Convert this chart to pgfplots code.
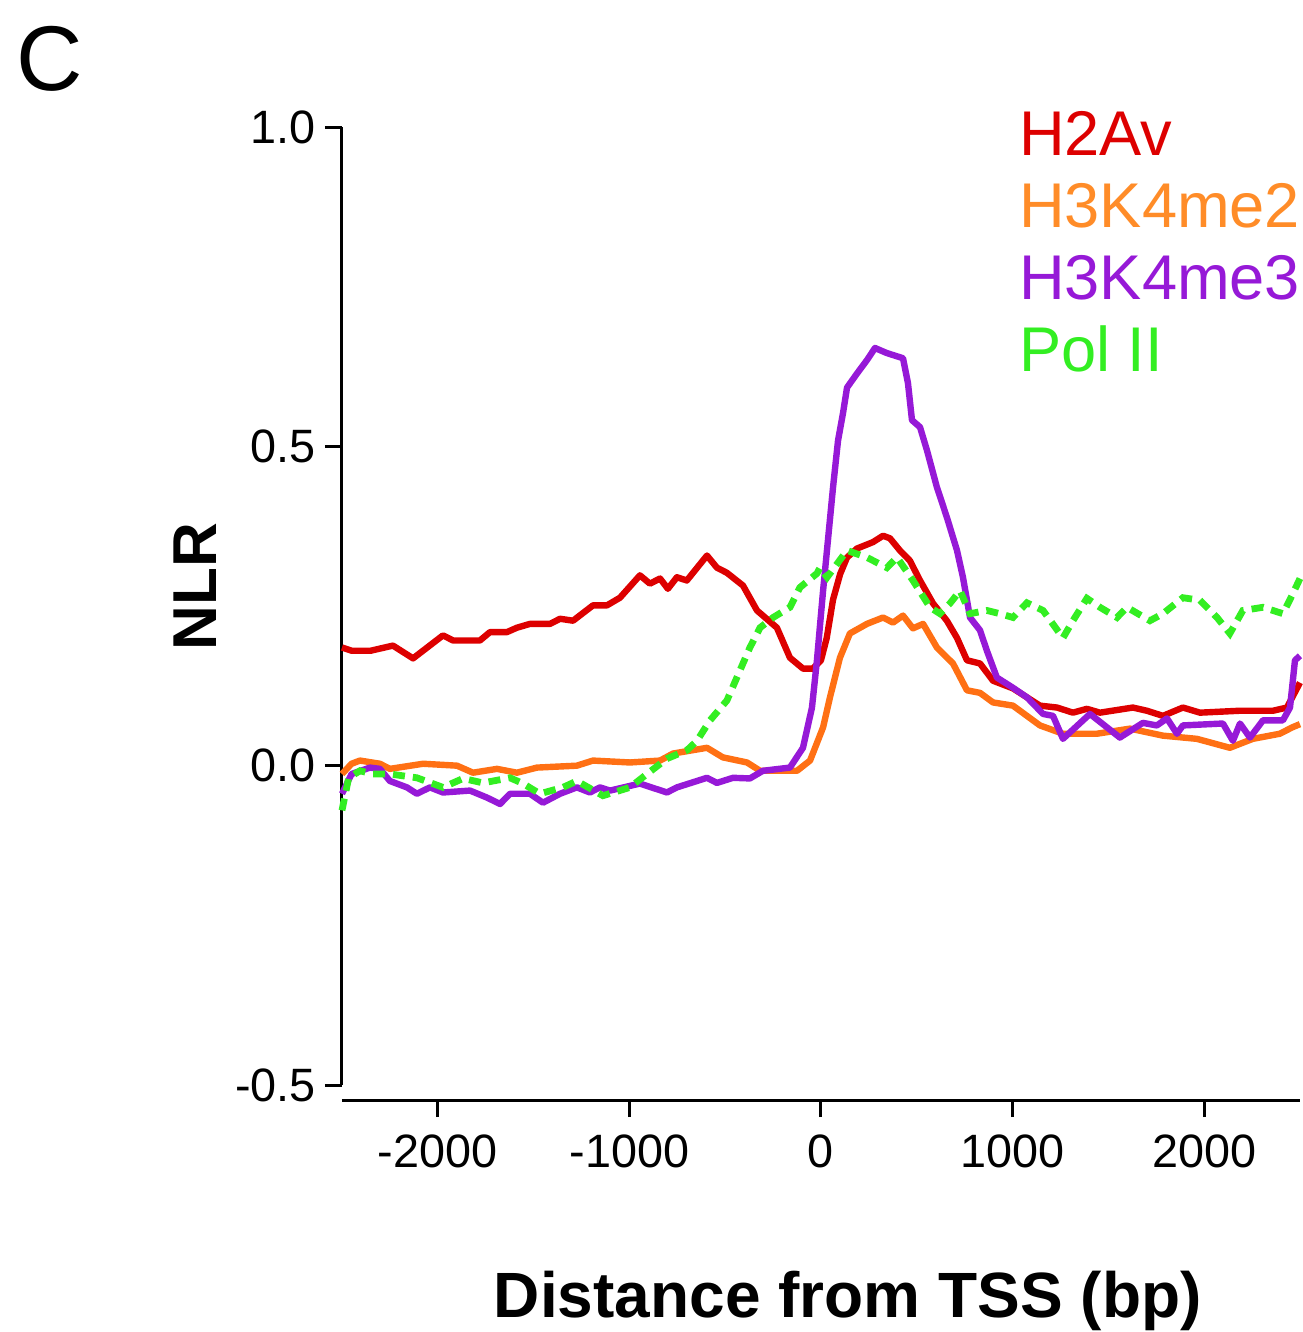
\documentclass[border=0pt]{standalone}
\usepackage{pgfplots}
\pgfplotsset{compat=1.18}
\usepackage{fontspec}
\setmainfont{Liberation Sans}
\definecolor{cRed}{RGB}{221,0,0}
\definecolor{cOrange}{RGB}{255,112,20}
\definecolor{cOrangeT}{RGB}{255,140,40}
\definecolor{cPurple}{RGB}{150,25,215}
\definecolor{cGreen}{RGB}{51,238,34}
\begin{document}
\begin{tikzpicture}
\useasboundingbox (-85.5pt,-61.75pt) rectangle (240.25pt,271.25pt);
\begin{axis}[
  at={(0pt,0pt)}, anchor=south west,
  scale only axis, width=239.5pt, height=239.5pt,
  xmin=-2500, xmax=2500, ymin=-0.5, ymax=1.0,
  axis x line*=bottom, axis y line*=left,
  axis x line shift=3.75pt,
  axis line style={-, line width=0.75pt, black},
  tick style={line width=0.75pt, black},
  tick align=outside, major tick length=4.3pt,
  xtick={-2000,-1000,0,1000,2000},
  ytick={-0.5,0,0.5,1.0},
  scaled ticks=false,
  /pgf/number format/assume math mode=true,
  /pgf/number format/1000 sep={},
  yticklabel={\pgfmathprintnumber[fixed,fixed zerofill,precision=1]{\tick}},
  tick label style={font=\fontsize{11.7}{13}\selectfont},
  xticklabel style={inner sep=0pt, yshift=-4.2pt},
  yticklabel style={inner sep=0pt, xshift=-2pt},
  xlabel={\bfseries Distance from TSS (bp)},
  ylabel={\bfseries NLR},
  every axis x label/.style={at={(axis description cs:0.528,-0.243)}, anchor=base, font=\fontsize{16}{18}\selectfont},
  every axis y label/.style={at={(axis description cs:-0.153,0.52)}, anchor=center, rotate=90, font=\fontsize{15.5}{18}\selectfont},
  legend image code/.code={},
  legend style={at={(axis cs:1030,1.028)}, anchor=north west, draw=none, fill=none, inner sep=0pt,
    row sep=6.7pt, font=\fontsize{15.8}{18}\selectfont,
    nodes={inner sep=0pt, text height=11.3pt, text depth=0pt}},
  legend cell align=left,
  clip=false,
]
\addplot[cRed, line width=1.6pt, line join=round] coordinates {
(-2500,0.185) (-2450,0.18) (-2350,0.18) (-2234,0.188) (-2129,0.168) (-1973,0.204) (-1920,0.196) (-1780,0.196) (-1728,0.209) (-1640,0.209) (-1587,0.216) (-1519,0.222) (-1414,0.222) (-1362,0.23) (-1294,0.227) (-1190,0.251) (-1117,0.251) (-1049,0.263) (-945,0.298) (-893,0.285) (-840,0.293) (-799,0.277) (-752,0.295) (-700,0.29) (-595,0.329) (-543,0.31) (-491,0.302) (-407,0.282) (-334,0.243) (-230,0.216) (-162,0.169) (-94,0.152) (-42,0.152) (0,0.165) (30,0.2) (63,0.26) (100,0.3) (136,0.326) (188,0.34) (271,0.35) (324,0.36) (360,0.356) (412,0.337) (464,0.321) (517,0.29) (585,0.254) (657,0.227) (710,0.2) (762,0.165) (830,0.16) (898,0.133) (1002,0.121) (1143,0.094) (1232,0.091) (1315,0.083) (1388,0.089) (1456,0.083) (1628,0.091) (1701,0.086) (1785,0.078) (1889,0.091) (1978,0.083) (2187,0.086) (2359,0.086) (2432,0.091) (2500,0.13)
};
\addlegendentry{\textcolor{cRed}{H2Av}}
\addplot[cOrange, line width=1.6pt, line join=round] coordinates {
(-2500,-0.013) (-2450,0.003) (-2406,0.008) (-2302,0.003) (-2250,-0.005) (-2077,0.003) (-1900,0) (-1816,-0.011) (-1691,-0.005) (-1587,-0.011) (-1482,-0.003) (-1274,0) (-1190,0.008) (-997,0.005) (-840,0.008) (-772,0.019) (-595,0.028) (-512,0.013) (-386,0.005) (-318,-0.008) (-125,-0.008) (-57,0.008) (11,0.06) (47,0.107) (99,0.169) (151,0.207) (240,0.222) (324,0.232) (376,0.224) (428,0.235) (480,0.215) (533,0.222) (605,0.185) (689,0.16) (762,0.118) (830,0.114) (898,0.099) (1002,0.094) (1143,0.063) (1263,0.05) (1440,0.05) (1613,0.058) (1785,0.047) (1962,0.042) (2134,0.028) (2254,0.042) (2395,0.05) (2460,0.06) (2500,0.065)
};
\addlegendentry{\textcolor{cOrangeT}{H3K4me2}}
\addplot[cPurple, line width=1.6pt, line join=round] coordinates {
(-2500,-0.044) (-2450,-0.013) (-2354,-0.003) (-2302,-0.005) (-2250,-0.024) (-2161,-0.034) (-2109,-0.044) (-2041,-0.034) (-1973,-0.042) (-1832,-0.039) (-1743,-0.05) (-1675,-0.06) (-1623,-0.044) (-1519,-0.044) (-1451,-0.058) (-1362,-0.044) (-1274,-0.034) (-1206,-0.042) (-1154,-0.034) (-1101,-0.039) (-945,-0.028) (-804,-0.042) (-752,-0.034) (-595,-0.019) (-543,-0.027) (-459,-0.019) (-371,-0.02) (-303,-0.008) (-162,-0.003) (-94,0.028) (-47,0.091) (-21,0.165) (-5,0.22) (11,0.274) (63,0.436) (89,0.509) (115,0.552) (136,0.592) (188,0.614) (240,0.635) (282,0.654) (344,0.646) (428,0.638) (454,0.599) (475,0.541) (517,0.53) (553,0.494) (605,0.436) (657,0.389) (710,0.337) (741,0.295) (778,0.232) (830,0.212) (866,0.18) (918,0.138) (1002,0.122) (1075,0.107) (1159,0.081) (1211,0.078) (1263,0.042) (1404,0.081) (1560,0.044) (1680,0.067) (1753,0.063) (1806,0.074) (1858,0.05) (1889,0.063) (2098,0.066) (2150,0.039) (2187,0.066) (2239,0.044) (2307,0.071) (2411,0.071) (2448,0.091) (2474,0.165) (2500,0.172)
};
\addlegendentry{\textcolor{cPurple}{H3K4me3}}
\addplot[cGreen, line width=1.7pt, dash pattern=on 3pt off 2pt] coordinates {
(-2500,-0.07) (-2465,-0.019) (-2406,-0.008) (-2338,-0.013) (-2250,-0.013) (-2109,-0.019) (-1973,-0.034) (-1868,-0.02) (-1764,-0.027) (-1623,-0.019) (-1555,-0.028) (-1467,-0.044) (-1347,-0.034) (-1274,-0.024) (-1138,-0.047) (-997,-0.034) (-908,-0.013) (-804,0.011) (-700,0.024) (-647,0.039) (-579,0.071) (-491,0.102) (-423,0.149) (-371,0.185) (-318,0.216) (-250,0.232) (-162,0.248) (-110,0.279) (-21,0.301) (-5,0.31) (32,0.295) (136,0.337) (240,0.326) (344,0.31) (397,0.326) (480,0.29) (569,0.248) (621,0.238) (673,0.254) (726,0.274) (778,0.238) (866,0.243) (934,0.238) (1002,0.232) (1075,0.255) (1159,0.243) (1263,0.2) (1315,0.227) (1388,0.262) (1456,0.248) (1545,0.232) (1597,0.248) (1717,0.227) (1785,0.238) (1889,0.263) (1978,0.259) (2067,0.232) (2134,0.207) (2202,0.243) (2307,0.248) (2411,0.238) (2464,0.27) (2500,0.293)
};
\addlegendentry{\textcolor{cGreen}{Pol II}}
\node[anchor=base, font=\fontsize{23}{26}\selectfont] at (axis description cs:-0.305,1.0386) {C};
\end{axis}
\end{tikzpicture}
\end{document}
